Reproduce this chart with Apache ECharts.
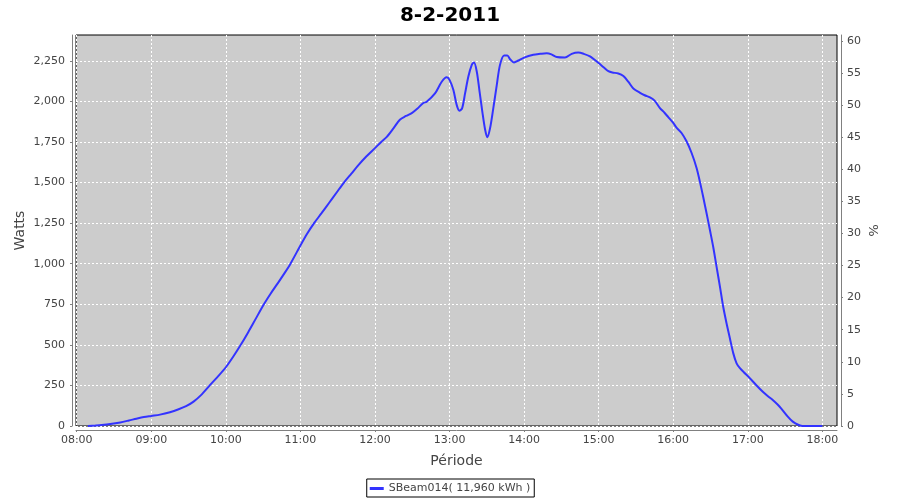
<!DOCTYPE html>
<html><head><meta charset="utf-8">
<script src="https://cdn.jsdelivr.net/npm/echarts@6/dist/echarts.min.js"></script>
<style>html,body{margin:0;padding:0;background:#fff}#c{width:900px;height:500px}</style>
</head><body><div id="c"></div>
<script>
const titleText = '8-2-2011';
const seriesName = 'SBeam014( 11,960 kWh )';
const xAxisName = 'Période';
const leftAxisName = 'Watts';
const rightAxisName = '%';

const times = [
  '08:09','08:15','08:20','08:27','08:35','08:42','08:48','08:54','09:00','09:07',
  '09:15','09:22','09:28','09:34','09:40','09:47','09:53','10:00','10:06','10:12',
  '10:18','10:24','10:30.6','10:36','10:42','10:48','10:52','11:00','11:05','11:11',
  '11:17','11:23','11:29','11:35','11:41','11:47','11:53','12:00','12:05','12:09.5',
  '12:15','12:20','12:25','12:29.6','12:34','12:38.9','12:41.6','12:48.3','12:53.7','12:57.7',
  '13:00.1','13:03.1','13:05.8','13:07.9','13:10.1','13:12.5','13:15.1','13:17.9','13:19.7','13:21.9',
  '13:24','13:26.4','13:28.6','13:30.4','13:32.6','13:35.2','13:38','13:40.6','13:43.9','13:46.5',
  '13:48.7','13:51.9','13:55.4','14:00','14:07.4','14:13','14:18.2','14:22','14:26.3','14:32.9',
  '14:38.3','14:43.6','14:48','14:53','15:00','15:04','15:07.8','15:11','15:15.8','15:19.9',
  '15:24','15:27.9','15:33.3','15:37','15:41.3','15:45','15:49.3','15:53','15:56','16:00',
  '16:03','16:06.7','16:10.7','16:14.8','16:18.8','16:21.5','16:24.1','16:26.8','16:29.5','16:32.2',
  '16:34.9','16:37.6','16:40.2','16:42.9','16:45.6','16:48.3','16:51','16:53.7','16:57','17:00',
  '17:06.7','17:12.1','17:16','17:20.1','17:24','17:26.8','17:32.2','17:36.2','17:41','17:44.2',
  '18:00'
];
const watts = [
  0,3,6,12,22,34,45,55,62,70,
  85,103,122,150,190,250,300,362,428,500,
  578,660,750,815,882,951,1000,1112,1180,1250,
  1311,1374,1437,1500,1555,1610,1660,1712,1750,1781,
  1835,1887,1910,1928,1955,1990,1998,2049,2121,2148,
  2131,2070,1977,1943,1957,2049,2152,2225,2240,2184,
  2070,1936,1827,1779,1834,1957,2100,2225,2283,2283,
  2260,2240,2252,2270,2287,2293,2297,2290,2273,2270,
  2293,2301,2293,2277,2236,2210,2186,2178,2172,2156,
  2120,2080,2053,2038,2025,2005,1959,1930,1903,1867,
  1835,1805,1754,1682,1590,1504,1412,1312,1209,1103,
  980,859,736,633,541,449,386,356,330,308,
  253,211,185,160,132,109,58,27,6,0,
  0
];
const xTickLabels = ['08:00','09:00','10:00','11:00','12:00','13:00','14:00','15:00','16:00','17:00','18:00'];
const wattTicks = [0,250,500,750,1000,1250,1500,1750,2000,2250];
const pctTicks = [0,5,10,15,20,25,30,35,40,45,50,55,60];

const toMin = s => { const p = s.split(':'); return (+p[0]) * 60 + parseFloat(p[1]); };
const pad = n => (n < 10 ? '0' : '') + n;
const fmtMin = v => pad(Math.floor(Math.round(v) / 60)) + ':' + pad(Math.round(v) % 60);
const fmtThousands = v => String(v).replace(/\B(?=(\d{3})+(?!\d))/g, ',');

const data = times.map((t, i) => [toMin(t), watts[i]]);
const xTickValues = xTickLabels.map(toMin);

const FONT = 'DejaVu Sans';
const AX = '#808080';
const TXT = '#444444';

const chart = echarts.init(document.getElementById('c'), null, {renderer: 'canvas'});
chart.setOption({
  animation: false,
  backgroundColor: '#ffffff',
  title: {
    text: titleText, left: 'center', top: 1,
    textStyle: {fontFamily: FONT, fontSize: 20, fontWeight: 'bold', color: '#000'}
  },
  legend: {
    bottom: 3, left: 'center',
    data: [seriesName],
    icon: 'rect', itemWidth: 14, itemHeight: 3,
    borderColor: '#000', borderWidth: 1, padding: [4, 4, 3, 3],
    textStyle: {fontFamily: FONT, fontSize: 11, color: TXT}
  },
  grid: {
    left: 76, right: 63, top: 35, bottom: 74,
    show: true, backgroundColor: '#cccccc', borderColor: '#000', borderWidth: 1
  },
  xAxis: {
    type: 'value', min: 479.4, max: 1091.8,
    offset: 4,
    name: xAxisName, nameLocation: 'middle', nameGap: 24, nameMoveOverlap: false,
    nameTextStyle: {fontFamily: FONT, fontSize: 14, color: TXT},
    axisLine: {show: true, onZero: false, lineStyle: {color: AX}},
    axisTick: {show: true, length: 2, lineStyle: {color: AX}, customValues: xTickValues},
    axisLabel: {fontFamily: FONT, fontSize: 11, color: TXT, margin: 5,
      customValues: xTickValues, formatter: v => fmtMin(v)},
    splitLine: {show: true, lineStyle: {color: '#ffffff', width: 1, type: [2, 2]}}
  },
  yAxis: [{
    type: 'value', min: 0, max: 2409, interval: 250,
    position: 'left', offset: 4,
    name: leftAxisName, nameLocation: 'middle', nameGap: 45, nameMoveOverlap: false,
    nameTextStyle: {fontFamily: FONT, fontSize: 14, color: TXT},
    axisLine: {show: true, lineStyle: {color: AX}},
    axisTick: {show: true, length: 2, lineStyle: {color: AX}, customValues: wattTicks},
    axisLabel: {fontFamily: FONT, fontSize: 11, color: TXT, margin: 7,
      customValues: wattTicks, formatter: v => fmtThousands(v)},
    splitLine: {show: true, lineStyle: {color: '#ffffff', width: 1, type: [2, 2]}}
  }, {
    type: 'value', min: 0, max: 60.9, interval: 5,
    position: 'right', offset: 4,
    name: rightAxisName, nameLocation: 'middle', nameGap: 25, nameRotate: -90, nameMoveOverlap: false,
    nameTextStyle: {fontFamily: FONT, fontSize: 13, color: TXT},
    axisLine: {show: true, lineStyle: {color: AX}},
    axisTick: {show: true, length: 2, lineStyle: {color: AX}, customValues: pctTicks},
    axisLabel: {fontFamily: FONT, fontSize: 11, color: TXT, margin: 6, customValues: pctTicks},
    splitLine: {show: false}
  }],
  series: [{
    name: seriesName, type: 'line', yAxisIndex: 0,
    data: data, showSymbol: false, smooth: 0.3,
    lineStyle: {color: '#3333ff', width: 2},
    itemStyle: {color: '#3333ff'}
  }]
});
</script>
</body></html>
